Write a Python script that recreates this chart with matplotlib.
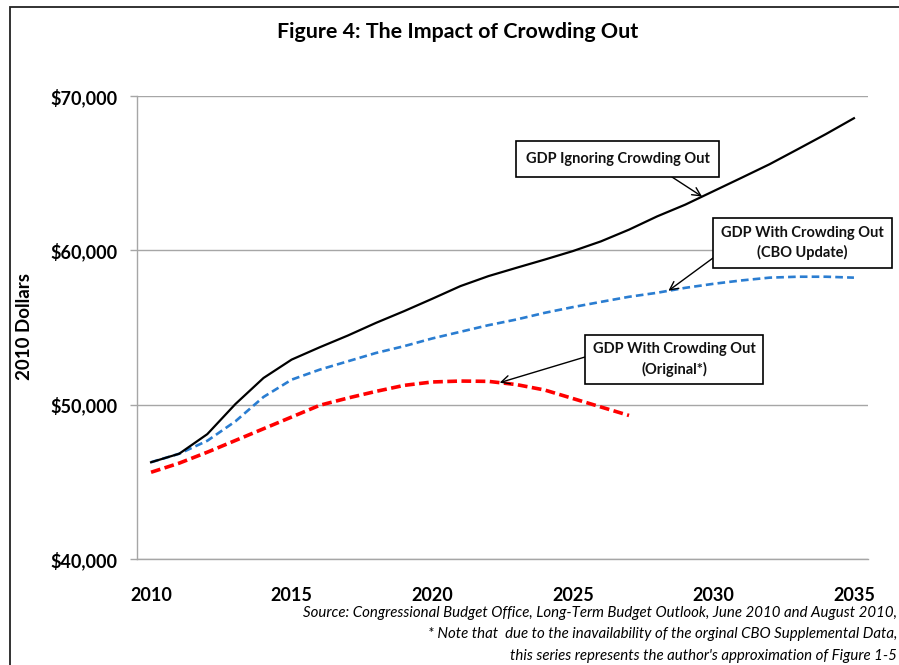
import numpy as np
import matplotlib
matplotlib.use("Agg")
import matplotlib.pyplot as plt
from matplotlib.patches import Rectangle
from matplotlib.ticker import FuncFormatter

plt.rcParams['font.family'] = ['Lato', 'DejaVu Sans']
plt.rcParams['lines.scale_dashes'] = False

# ---- data ----
years = list(range(2010, 2036))
gdp_ignoring = [46270, 46820, 48090, 50040, 51730, 52920, 53720, 54480, 55300, 56060,
                56860, 57680, 58330, 58870, 59400, 59950, 60580, 61340, 62200, 62960,
                63830, 64700, 65580, 66550, 67530, 68560]
gdp_cbo_update = [46270, 46820, 47660, 48920, 50500, 51620, 52270, 52810, 53350, 53790,
                  54290, 54720, 55150, 55520, 55950, 56320, 56660, 56990, 57250, 57570,
                  57830, 58050, 58230, 58290, 58290, 58230]
years_orig = list(range(2010, 2028))
gdp_original = [45620, 46210, 46920, 47680, 48440, 49200, 49960, 50430, 50860, 51250,
                51470, 51530, 51510, 51300, 50950, 50400, 49850, 49300]
ytick_vals = [40000, 50000, 60000, 70000]
xtick_vals = [2010, 2015, 2020, 2025, 2030, 2035]

W, H = 899, 665
fig = plt.figure(figsize=(W / 100, H / 100), dpi=100)
ax = fig.add_axes([137 / W, 1 - 559 / H, (868 - 137) / W, (559 - 96) / H])

ax.plot(years, gdp_ignoring, color='black', lw=1.6, zorder=5)
ax.plot(years, gdp_cbo_update, color='#2a7dd1', lw=1.9, dashes=(5.5, 3.0), zorder=4)
ax.plot(years_orig, gdp_original, color='#ff0000', lw=2.6, dashes=(7.0, 3.2), zorder=3)

ax.set_xlim(2009.5, 2035.5)
ax.set_ylim(40000, 70000)
ax.set_yticks(ytick_vals)
ax.yaxis.set_major_formatter(FuncFormatter(lambda v, p: '${:,.0f}'.format(v)))
ax.set_xticks(xtick_vals)
ax.set_xticklabels([str(x) for x in xtick_vals])

grid_c = '#a6a6a6'
ax.grid(axis='y', color=grid_c, lw=1.0)
ax.set_axisbelow(True)
for s in ['top', 'right']:
    ax.spines[s].set_visible(False)
for s in ['left', 'bottom']:
    ax.spines[s].set_color(grid_c)
    ax.spines[s].set_linewidth(1.0)
ax.tick_params(axis='y', length=5, color=grid_c, width=1.0, pad=9, labelsize=13)
ax.tick_params(axis='x', length=0, pad=20, labelsize=13)
for lab in ax.get_xticklabels() + ax.get_yticklabels():
    lab.set_fontweight('bold')

fig.text(25 / W, 1 - 327 / H, '2010 Dollars', rotation=90, ha='center', va='center',
         fontsize=13.5, fontweight='bold')

fig.text(458 / W, 1 - 32 / H, 'Figure 4: The Impact of Crowding Out', ha='center',
         va='center', fontsize=15.4, fontweight='bold')

src_lines = ["Source: Congressional Budget Office, Long-Term Budget Outlook, June 2010 and August 2010,",
             "* Note that  due to the inavailability of the orginal CBO Supplemental Data,",
             "this series represents the author's approximation of Figure 1-5"]
for t, yy in zip(src_lines, [613, 634, 656]):
    fig.text(897 / W, 1 - yy / H, t, ha='right', va='center', fontsize=10.8, style='italic')

# outer frame
fig.add_artist(Rectangle((10 / W, -0.05), 1.2, 1 - 6.5 / H + 0.05, transform=fig.transFigure,
                         fill=False, edgecolor='#222222', lw=1.3))

# annotation boxes (pixel layout) and arrows to the series
def box(x0, y0, x1, y1, text):
    fig.add_artist(Rectangle((x0 / W, 1 - y1 / H), (x1 - x0) / W, (y1 - y0) / H,
                             transform=fig.transFigure, facecolor='white',
                             edgecolor='black', lw=1.2, zorder=10))
    fig.text((x0 + x1) / 2 / W, 1 - (y0 + y1) / 2 / H, text, ha='center', va='center',
             fontsize=10.5, fontweight='bold', linespacing=1.45, zorder=11, color='#111111')

def arrow(start_px, xval, xs, ys):
    yval = float(np.interp(xval, xs, ys))
    ax.annotate('', xy=(xval, yval), xycoords='data',
                xytext=(start_px[0], H - start_px[1]), textcoords='figure pixels',
                arrowprops=dict(arrowstyle='->', color='black', lw=1.0,
                                mutation_scale=15, shrinkA=0, shrinkB=0), zorder=9)

box(516, 141, 719, 177, 'GDP Ignoring Crowding Out')
arrow((672, 177), 2029.6, years, gdp_ignoring)

box(713, 218, 892, 268, 'GDP With Crowding Out\n(CBO Update)')
arrow((713, 258), 2028.4, years, gdp_cbo_update)

box(585, 335, 763, 384, 'GDP With Crowding Out\n(Original*)')
arrow((585, 357), 2022.4, years_orig, gdp_original)

fig.savefig('out.png', dpi=100)
